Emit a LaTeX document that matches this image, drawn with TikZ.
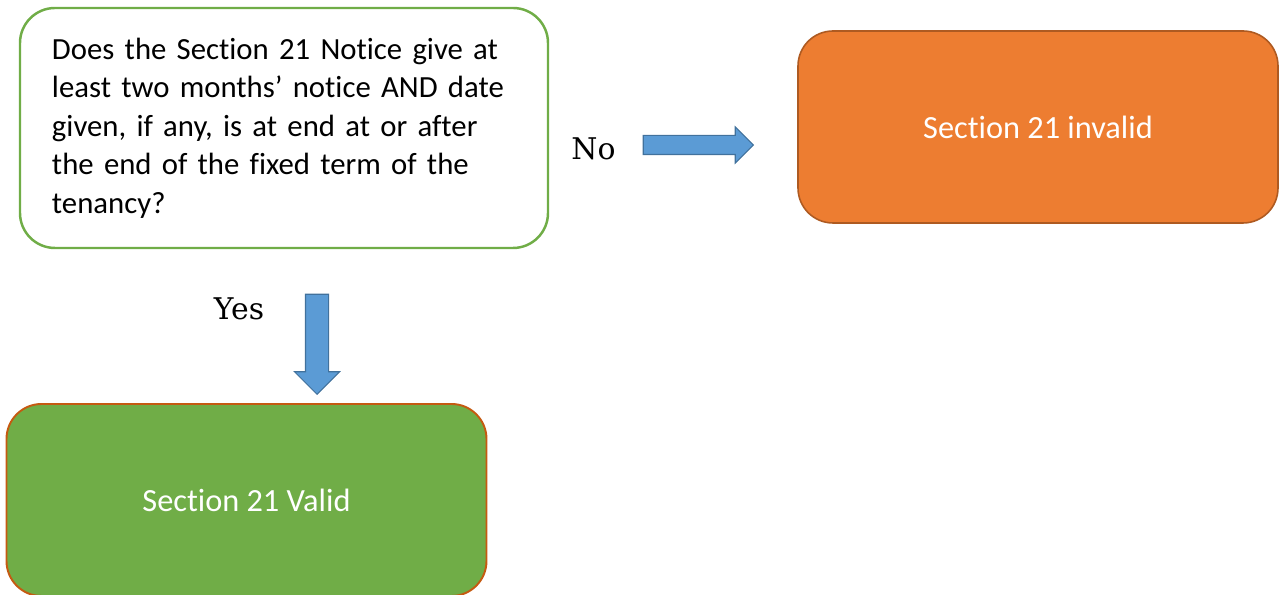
\documentclass[tikz,border=0pt]{standalone}
\usepackage{fontspec}
\setmainfont{Carlito}[Ligatures=NoCommon]
\newfontfamily\labelfont{DejaVu Serif}
\usepackage{tikz}
\usetikzlibrary{shapes, arrows}
\tikzset{>=latex}
\definecolor{qgreen}{RGB}{112, 173, 71}
\definecolor{myorange}{RGB}{237, 125, 49}
\definecolor{myorangedark}{RGB}{174, 90, 33}
\definecolor{mybrown}{RGB}{197, 90, 17}
\definecolor{myblue}{RGB}{91, 155, 213}
\definecolor{mybluedark}{RGB}{65, 113, 156}
\tikzset{
  question/.style = {draw = qgreen, line width = 1.4pt, fill = white, rounded corners = 0.7cm,
    minimum width = 10.56cm, minimum height = 4.8cm, text width = 9.28cm, align = left,
    font = \fontsize{17.5}{21.9}\selectfont},
  outcome/.style = {rounded corners = 0.7cm, minimum width = 9.6cm, minimum height = 3.84cm,
    text = white, font = \fontsize{18.4}{22}\selectfont},
  blockarrow/.style = {single arrow, draw = mybluedark, fill = myblue, line width = 0.6pt,
    single arrow tip angle = 90},
  answer/.style = {anchor = base, font = \labelfont\fontsize{17}{21}\selectfont}
}
\begin{document}
\begin{tikzpicture}
\useasboundingbox (0, 0) rectangle (25.6, 11.9);
% question and the two outcomes
\node[question] (notice) at (5.68, 9.34) {Does the Section 21 Notice give at\\
least two months’ notice AND date\\
given, if any, is at end at or after\\
the end of the fixed term of the\\
tenancy?};
\node[outcome, draw = myorangedark, line width = 0.9pt, fill = myorange] (invalid) at (20.76, 9.36) {Section 21 invalid};
\node[outcome, draw = mybrown, line width = 1.1pt, fill = qgreen] (valid) at (4.93, 1.9) {Section 21 Valid};
% block arrows
\node[blockarrow, minimum height = 2.2cm, inner xsep = 0pt, inner ysep = 0.18cm, single arrow head extend = 0.17cm] (noarrow) at (13.87, 9.0) {};
\node[blockarrow, minimum height = 2.0cm, inner xsep = 0.22cm, inner ysep = 0pt, single arrow head extend = 0.22cm, shape border rotate = 270] (yesarrow) at (6.34, 5.13) {};
\node[answer] (no) at (11.87, 8.7) {No};
\node[answer] (yes) at (4.78, 5.5) {Yes};
\end{tikzpicture}
\end{document}
